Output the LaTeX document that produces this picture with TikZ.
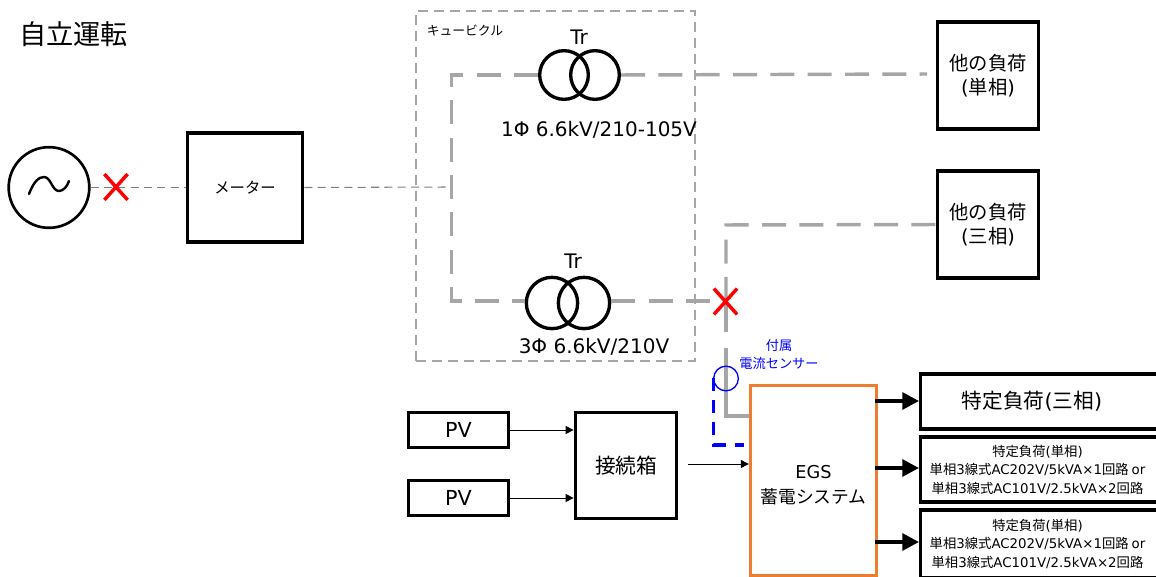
\documentclass[tikz,border=0pt]{standalone}
\usepackage{fontspec}
\setmainfont{Noto Sans CJK JP}
\newfontfamily\lat{DejaVu Sans}
\usetikzlibrary{arrows.meta}
\definecolor{linegray}{HTML}{A6A6A6}
\definecolor{thingray}{HTML}{7F7F7F}
\definecolor{orangeb}{HTML}{ED7D31}
\tikzset{
  x=0.75pt,y=-0.75pt,
  blackbox/.style={draw=black,line width=2.6pt,inner sep=0pt,align=center,font=\fontsize{14.5}{18.5}\selectfont},
  trcirc/.style={draw=black,line width=2.5pt,circle,minimum size=36.5pt,inner sep=0pt},
  feeder/.style={draw=linegray,line width=2.6pt,dash pattern=on 18pt off 10pt},
  solidfeed/.style={draw=linegray,line width=2.6pt},
  thinfeed/.style={draw=thingray,line width=0.8pt,dash pattern=on 6pt off 4pt},
  cubicle/.style={draw=linegray,line width=1.2pt,dash pattern=on 7.5pt off 4.5pt},
  redx/.style={draw=red,line width=2.6pt},
  thickarrow/.style={draw=black,line width=2.8pt,-{Triangle[length=12.5pt,width=12.5pt]}},
  thinarrow/.style={draw=black,line width=0.75pt,-{Triangle[length=6pt,width=6pt]}},
  lab/.style={inner sep=0pt,align=center},
  lat15/.style={lab,font=\lat\fontsize{15}{18}\selectfont},
  smallload/.style={lab,font=\fontsize{10}{13.8}\selectfont},
}
\newcommand{\loadtext}{特定負荷{\lat(}単相{\lat)}\\単相{\lat 3}線式{\lat AC202V/5kVA×1}回路 {\lat or}\\単相{\lat 3}線式{\lat AC101V/2.5kVA×2}回路}
\begin{document}
\begin{tikzpicture}
\useasboundingbox (0,0) rectangle (1156,577);
\clip (0,0) rectangle (1156,577);
\node[lab,font=\fontsize{20.4}{24}\selectfont] (title) at (73.5,34) {自立運転};
% cubicle
\node[cubicle,minimum width=209.25pt,minimum height=262.5pt,inner sep=0pt] (cub) at (555.5,186) {};
\node[lab,font=\fontsize{9.6}{12}\selectfont] (cublab) at (465,30.5) {キュービクル};
% coordinates
\coordinate (busT) at (451.5,75);
\coordinate (busM) at (451.5,187);
\coordinate (busB) at (451.5,301);
\coordinate (loadT) at (927,74);
\coordinate (jct) at (726,301);
\coordinate (upc) at (726,225);
\coordinate (vgapa) at (726,332);
\coordinate (vgapb) at (726,348);
\coordinate (lowc) at (726,416);
% source and meter
\node[trcirc,line width=2pt,minimum size=60.5pt] (src) at (49,187.5) {};
\node[blackbox,minimum width=86.5pt,minimum height=82pt] (meter) at (245,187.5) {\fontsize{11.5}{14}\selectfont メーター};
\draw[thinfeed] (src.east) -- (meter.west);
\draw[thinfeed] (meter.east) -- (busM);
% AC wave
\draw[black,line width=1.8pt,line cap=round] (29,194) .. controls (34,181) and (39,177) .. (44,177) .. controls (51,177) and (52,191) .. (59,191) .. controls (63,191) and (67,187) .. (69,181);
% transformers
\node[trcirc] (t1a) at (564,75) {};
\node[trcirc] (t1b) at (595,75) {};
\node[trcirc,minimum size=38.5pt] (t2a) at (552,303) {};
\node[trcirc,minimum size=38.5pt] (t2b) at (584,303) {};
\node[lat15] (tr1) at (579,37) {Tr};
\node[lat15] (tr2) at (573,261) {Tr};
\node[lat15] (v1) at (599,130) {1Φ 6.6kV/210-105V};
\node[lat15] (v2) at (594,347) {3Φ 6.6kV/210V};
% feeders
\draw[feeder] (t1a.west) -- (busT) -- (busB) -- (t2a.west |- busB);
\draw[feeder] (t1b.east |- busT) -- (loadT);
\draw[feeder] (t2b.east |- jct) -- (jct);
% loads
\node[blackbox,minimum width=75.5pt,minimum height=80.5pt] (l1) at (988,75.5) {他の負荷\\{\lat(}単相{\lat)}};
\node[blackbox,minimum width=75.5pt,minimum height=80.5pt] (l2) at (988,224.5) {他の負荷\\{\lat(}三相{\lat)}};
\draw[feeder] (jct) -- (upc) -- (l2.west);
\draw[solidfeed] (jct) -- (vgapa);
% EGS
\node[draw=orangeb,line width=2.5pt,minimum width=94.5pt,minimum height=142.5pt,inner sep=0pt] (egs) at (813.5,480.5) {};
\node[lab,font=\fontsize{13.3}{18.5}\selectfont] (egst) at (813.5,485) {{\lat EGS}\\蓄電システム};
\draw[solidfeed] (vgapb) -- (lowc) -- (lowc -| egs.west);
% red X
\node[inner sep=0pt,minimum width=17pt,minimum height=19pt] (x1) at (116,187) {};
\draw[redx] (x1.north west) -- (x1.south east) (x1.north east) -- (x1.south west);
\node[inner sep=0pt,minimum width=17pt,minimum height=19pt] (x2) at (725.5,301.5) {};
\draw[redx] (x2.north west) -- (x2.south east) (x2.north east) -- (x2.south west);
% sensor
\node[draw=blue,line width=1pt,circle,minimum size=18.5pt,inner sep=0pt] (sensor) at (726,378.5) {};
\node[lab,text=blue,font=\fontsize{9.9}{13}\selectfont] (senlab) at (779,354.5) {付属\\電流センサー};
\coordinate (bs) at (713.5,378);
\coordinate (bc) at (713.5,445);
\coordinate (be) at (744,445);
\draw[blue,line width=2.6pt,dash pattern=on 10pt off 6.5pt] (bs) -- (bc) -- (be);
% output boxes
\node[blackbox,minimum width=270pt,minimum height=41.5pt,anchor=west] (o1) at (919,401.5) {};
\node[lab,font=\fontsize{15.5}{18}\selectfont] (o1t) at (1032,401) {特定負荷{\lat(}三相{\lat)}};
\node[blackbox,minimum width=270pt,minimum height=49pt,anchor=west] (o2) at (919,469.5) {};
\node[smallload] (o2t) at (1037.5,470) {\loadtext};
\node[blackbox,minimum width=270pt,minimum height=51pt,anchor=west] (o3) at (919,544) {};
\node[smallload] (o3t) at (1037.5,544) {\loadtext};
\coordinate (a1) at (875,401);
\coordinate (a2) at (875,468);
\coordinate (a3) at (875,542);
\draw[thickarrow] (a1) -- (a1 -| o1.west);
\draw[thickarrow] (a2) -- (a2 -| o2.west);
\draw[thickarrow] (a3) -- (a3 -| o3.west);
% PV
\node[blackbox,minimum width=75pt,minimum height=26.5pt,font=\lat\fontsize{15.5}{18}\selectfont] (pv1) at (458.5,430) {PV};
\node[blackbox,minimum width=75pt,minimum height=26.5pt,font=\lat\fontsize{15.5}{18}\selectfont] (pv2) at (458.5,498) {PV};
\node[blackbox,minimum width=76pt,minimum height=79.5pt,font=\fontsize{15.5}{18}\selectfont] (box) at (626,465.5) {接続箱};
\draw[thinarrow] (pv1.east) -- (pv1.east -| box.west);
\draw[thinarrow] (pv2.east) -- (pv2.east -| box.west);
\coordinate (fromBox) at (688,464);
\draw[thinarrow] (fromBox) -- (fromBox -| egs.west);
\end{tikzpicture}
\end{document}
